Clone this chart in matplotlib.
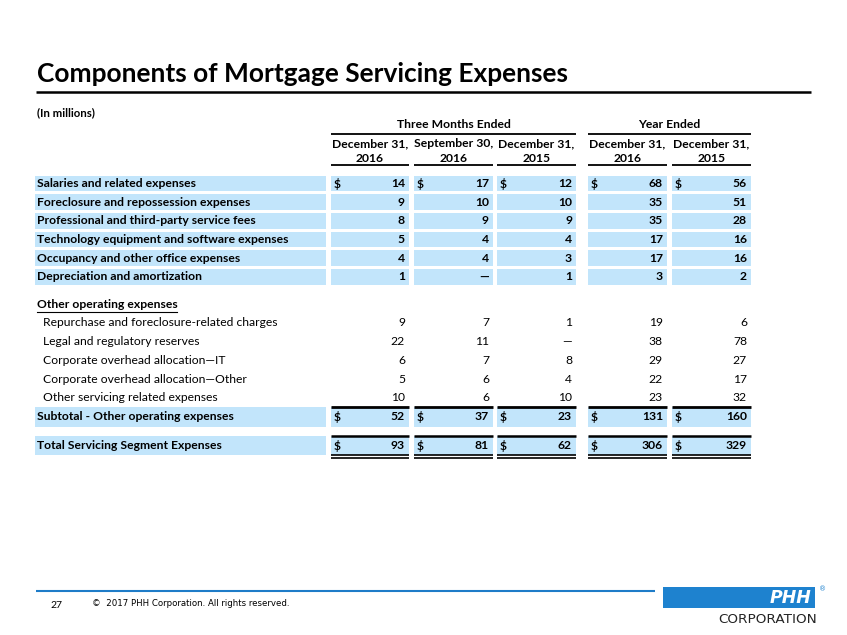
import matplotlib.pyplot as plt
from matplotlib.patches import Rectangle

# ---- data ----
titulo = 'Components of Mortgage Servicing Expenses'
grupos = ['Three Months Ended', 'Year Ended']
cabecalhos = [('December 31,', '2016'), ('September 30,', '2016'), ('December 31,', '2015'),
              ('December 31,', '2016'), ('December 31,', '2015')]

linhas_principais = ['Salaries and related expenses',
                     'Foreclosure and repossession expenses',
                     'Professional and third-party service fees',
                     'Technology equipment and software expenses',
                     'Occupancy and other office expenses',
                     'Depreciation and amortization']
dez16_q = [14, 9, 8, 5, 4, 1]
set16_q = [17, 10, 9, 4, 4, None]
dez15_q = [12, 10, 9, 4, 3, 1]
dez16_a = [68, 35, 35, 17, 17, 3]
dez15_a = [56, 51, 28, 16, 16, 2]

outras_titulo = 'Other operating expenses'
linhas_outras = ['Repurchase and foreclosure-related charges',
                 'Legal and regulatory reserves',
                 'Corporate overhead allocation\u2014IT',
                 'Corporate overhead allocation\u2014Other',
                 'Other servicing related expenses']
outras_dez16_q = [9, 22, 6, 5, 10]
outras_set16_q = [7, 11, 7, 6, 6]
outras_dez15_q = [1, None, 8, 4, 10]
outras_dez16_a = [19, 38, 29, 22, 23]
outras_dez15_a = [6, 78, 27, 17, 32]

subtotal_rotulo = 'Subtotal - Other operating expenses'
subtotal = [52, 37, 23, 131, 160]
total_rotulo = 'Total Servicing Segment Expenses'
total = [93, 81, 62, 306, 329]

# ---- layout (pixels) ----
W, H = 847, 635
AZUL = '#C2E5FB'
FONTE = 'Lato'
FS = 8.7
colunas = [(331, 409), (414, 493), (497, 576), (588, 667), (672, 751)]
y_principais = [183.5, 202.2, 220.8, 239.5, 258.2, 276.9]
y_outras_titulo = 304
y_outras = [323, 341.7, 360.4, 379.1, 397.8]
y_sub = 417
y_tot = 445.5


def fmt(v):
    return '\u2014' if v is None else str(v)


fig = plt.figure(figsize=(W / 100, H / 100), dpi=100)
ax = fig.add_axes([0, 0, 1, 1])
ax.set_xlim(0, W)
ax.set_ylim(H, 0)
ax.axis('off')

# titulo
ax.text(37, 74, titulo, fontsize=18.9, fontweight='bold', family=FONTE, va='center', ha='left')
ax.plot([36, 811], [92, 92], color='black', lw=1.8, solid_capstyle='butt')
ax.text(37, 113, '(In millions)', fontsize=8.2, fontweight='bold', family=FONTE, va='center')

# cabecalhos
for nome, (a, b) in zip(grupos, [(colunas[0][0], colunas[2][1]), (colunas[3][0], colunas[4][1])]):
    ax.text((a + b) / 2, 124.5, nome, fontsize=FS, fontweight='bold', family=FONTE, ha='center', va='center')
    ax.plot([a, b], [134, 134], color='black', lw=1.3, solid_capstyle='butt')

for (l1, l2), (a, b) in zip(cabecalhos, colunas):
    ax.text((a + b) / 2, 143.5, l1, fontsize=FS, fontweight='bold', family=FONTE, ha='center', va='center')
    ax.text((a + b) / 2, 158, l2, fontsize=FS, fontweight='bold', family=FONTE, ha='center', va='center')
    ax.plot([a, b], [164.5, 164.5], color='black', lw=1.3, solid_capstyle='butt')


def faixa(y, h):
    ax.add_patch(Rectangle((35, y - h / 2), 291, h, color=AZUL, lw=0))
    for a, b in colunas:
        ax.add_patch(Rectangle((a, y - h / 2), b - a, h, color=AZUL, lw=0))


def valores(y, vals, negrito, cifrao=False):
    for v, (a, b) in zip(vals, colunas):
        ax.text(b - 4, y, fmt(v), fontsize=FS, fontweight=negrito, family=FONTE, ha='right', va='center')
        if cifrao:
            ax.text(a + 3, y, '$', fontsize=FS, fontweight=negrito, family=FONTE, ha='left', va='center')


colunas_principais = list(zip(dez16_q, set16_q, dez15_q, dez16_a, dez15_a))
for i, (rotulo, y) in enumerate(zip(linhas_principais, y_principais)):
    faixa(y, 15.5)
    ax.text(37, y, rotulo, fontsize=FS, fontweight='bold', family=FONTE, va='center')
    valores(y, colunas_principais[i], 'bold', cifrao=(i == 0))

# outras despesas operacionais
ax.text(37, y_outras_titulo, outras_titulo, fontsize=FS, fontweight='bold', family=FONTE, va='center')
ax.plot([37, 177], [311.5, 311.5], color='black', lw=0.8)
colunas_outras = list(zip(outras_dez16_q, outras_set16_q, outras_dez15_q, outras_dez16_a, outras_dez15_a))
for i, (rotulo, y) in enumerate(zip(linhas_outras, y_outras)):
    ax.text(43, y, rotulo, fontsize=FS, family=FONTE, va='center')
    valores(y, colunas_outras[i], 'normal')

# subtotal
faixa(y_sub, 20)
ax.text(37, y_sub, subtotal_rotulo, fontsize=FS, fontweight='bold', family=FONTE, va='center')
valores(y_sub, subtotal, 'bold', cifrao=True)
for a, b in colunas:
    ax.plot([a, b], [407, 407], color='black', lw=2.0, solid_capstyle='butt')

# total
faixa(y_tot, 19)
ax.text(37, y_tot, total_rotulo, fontsize=FS, fontweight='bold', family=FONTE, va='center')
valores(y_tot, total, 'bold', cifrao=True)
for a, b in colunas:
    ax.plot([a, b], [436, 436], color='black', lw=1.8, solid_capstyle='butt')
    ax.plot([a, b], [455, 455], color='black', lw=1.2, solid_capstyle='butt')
    ax.plot([a, b], [457.8, 457.8], color='black', lw=1.2, solid_capstyle='butt')

# rodape
ax.plot([36, 655], [591, 591], color='#1E7CC8', lw=1.5, solid_capstyle='butt')
ax.text(50, 605, '27', fontsize=7.5, family=FONTE, va='center')
ax.text(92, 603.5, '\u00a9  2017 PHH Corporation. All rights reserved.', fontsize=6.2,
        family='Liberation Sans Narrow', va='center')
ax.add_patch(Rectangle((663, 587), 152, 21, color='#1E82CF', lw=0))
ax.text(811, 598, 'PHH', fontsize=12.5, fontweight='bold', style='italic', color='white',
        family='DejaVu Sans', ha='right', va='center')
ax.text(823, 589.5, '\u00ae', fontsize=5, color='#1E82CF', ha='center', va='center')
ax.text(817, 619.5, 'CORPORATION', fontsize=9.7, family='DejaVu Sans', ha='right', va='center', color='#222222')

fig.savefig('out.png', dpi=100)
